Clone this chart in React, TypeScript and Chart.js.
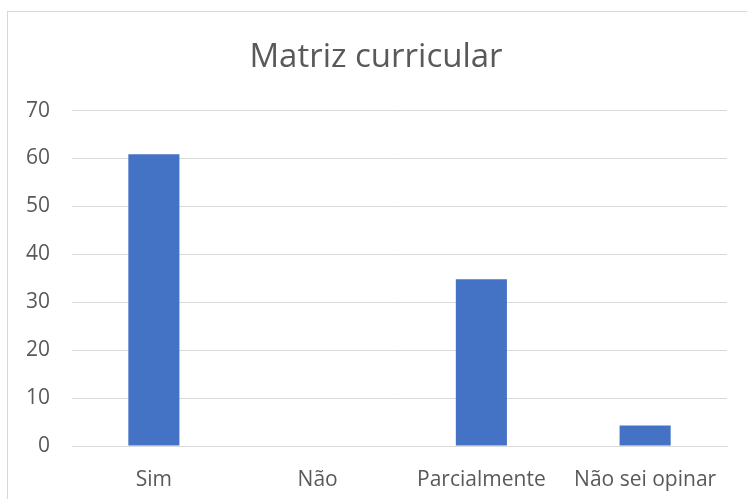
import React, { useEffect, useRef } from "react";
import { Chart, registerables } from "chart.js";

Chart.register(...registerables);

const categories: string[] = ["Sim", "Não", "Parcialmente", "Não sei opinar"];
const values: number[] = [60.9, 0, 34.8, 4.3];
const chartTitle = "Matriz curricular";
const yMin = 0;
const yMax = 70;
const yStep = 10;

const TEXT = "#595959";
const GRID = "#d9d9d9";
const BAR = "#4472C4";
const FONT = "'Open Sans', 'Noto Sans', sans-serif";

export default function App() {
  const ref = useRef<HTMLCanvasElement | null>(null);

  useEffect(() => {
    if (!ref.current) return;
    const chart = new Chart(ref.current, {
      type: "bar",
      data: {
        labels: categories,
        datasets: [
          {
            data: values,
            backgroundColor: BAR,
            borderWidth: 0,
            barPercentage: 0.312,
            categoryPercentage: 1,
          },
        ],
      },
      options: {
        animation: false,
        responsive: false,
        maintainAspectRatio: false,
        layout: { padding: { left: 17, right: 27, top: 0, bottom: 40 } },
        plugins: {
          legend: { display: false },
          tooltip: { enabled: false },
          title: {
            display: true,
            text: chartTitle,
            color: TEXT,
            font: { family: FONT, size: 33, weight: "normal", lineHeight: 1.2 },
            padding: { top: 26, bottom: 33 },
          },
        },
        scales: {
          x: {
            grid: { display: false, drawTicks: false },
            border: { display: true, color: GRID, width: 1 },
            ticks: {
              color: TEXT,
              padding: 21,
              maxRotation: 0,
              autoSkip: false,
              font: { family: FONT, size: 21, lineHeight: 1.2 },
            },
            afterFit: (s: any) => {
              s.height = 46;
            },
          },
          y: {
            min: yMin,
            max: yMax,
            grid: { color: GRID, lineWidth: 1, drawTicks: false },
            border: { display: false },
            ticks: {
              stepSize: yStep,
              color: TEXT,
              padding: 22,
              font: { family: FONT, size: 21, lineHeight: 1.2 },
            },
            afterFit: (s: any) => {
              s.width = 47;
            },
          },
        },
      },
    });
    return () => chart.destroy();
  }, []);

  return (
    <div
      style={{
        position: "fixed",
        left: 7,
        top: 11,
        width: 748,
        height: 522,
        border: `1px solid ${GRID}`,
        boxSizing: "border-box",
        background: "#fff",
        overflow: "hidden",
      }}
    >
      <canvas ref={ref} width={746} height={520} style={{ display: "block", width: 746, height: 520 }} />
    </div>
  );
}
